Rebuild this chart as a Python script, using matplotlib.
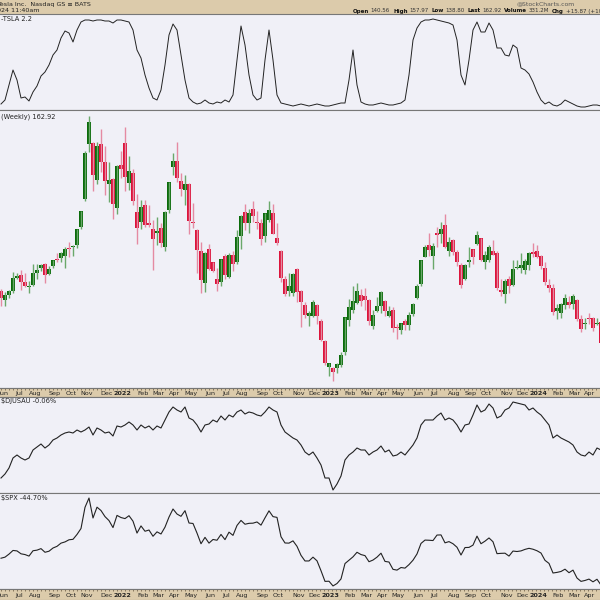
import numpy as np
import pandas as pd
import matplotlib
matplotlib.use("Agg")
import matplotlib.pyplot as plt

# weekly bars, Monday of each week
weeks = pd.date_range("2021-05-31", periods=151, freq="W-MON")

opens = [208, 198, 204, 208, 224, 227, 219, 213, 215, 230,
         235, 240, 228, 238, 246, 247, 250, 259, 260, 262,
         284, 317, 382, 383, 339, 381, 360, 335, 340, 306,
         357, 383, 336, 347, 302, 290, 310, 288, 282, 277,
         283, 260, 304, 355, 362, 338, 327, 335, 289, 280,
         256, 218, 258, 243, 222, 219, 250, 225, 251, 243,
         273, 301, 289, 305, 290, 289, 273, 292, 300, 271,
         255, 223, 208, 206, 234, 208, 192, 179, 179, 192,
         173, 150, 119, 118, 118, 121, 136, 174, 186, 194,
         204, 202, 198, 167, 185, 191, 197, 179, 186, 165,
         163, 173, 168, 181, 200, 217, 248, 262, 250, 277,
         276, 286, 255, 268, 254, 239, 222, 242, 258, 264,
         271, 243, 245, 255, 253, 210, 205, 223, 216, 235,
         236, 233, 239, 254, 255, 250, 236, 215, 212, 185,
         182, 192, 196, 193, 198, 175, 170, 176, 176, 169,
         172]
highs = [211, 207, 210, 231, 230, 233, 229, 220, 240, 240,
         240, 241, 238, 245, 253, 254, 260, 266, 263, 282,
         303, 373, 414.5, 384, 384, 399, 379, 360, 342, 357,
         373, 402, 367, 352, 323, 315, 315, 310, 292, 296,
         288, 303, 337, 371, 384, 347, 345, 336, 312, 282,
         266, 254, 264, 243, 235, 246, 252, 253, 256, 280,
         298, 311, 305, 314, 303, 293, 300, 314, 311, 289,
         257, 226, 230, 230, 235, 209, 195, 185, 198, 193,
         175, 151, 124, 119, 124, 137, 178, 199, 214, 217.6,
         211, 212, 199, 186, 201, 208, 198, 191, 190, 169,
         171, 175, 184, 194, 217, 245, 263, 277, 265, 284,
         290, 299, 272, 270, 257, 241, 240, 260, 258, 279,
         271, 255, 263, 268, 256, 222, 222, 226, 245, 245,
         253, 246, 254, 265, 263, 251, 242, 223, 217, 193,
         194, 205, 202, 205, 199, 180, 177, 183, 178, 176,
         173]
lows = [190.5, 191, 200, 206, 222, 210, 213, 206, 214, 223,
        232, 218, 227, 236, 243, 242, 235, 249, 250, 259,
        281, 314, 372, 326, 335, 349, 321, 313, 293, 299,
        341, 326, 327, 310, 264, 281, 284, 284, 233, 263,
        260, 256, 300, 345, 337, 320, 310, 276, 283, 229,
        206, 207, 233, 231, 208, 214, 222, 224, 232, 240,
        258, 280, 277, 290, 282, 262, 266, 290, 275, 263,
        219, 203, 203, 203, 196, 166, 176, 167, 178, 170,
        150, 121, 108, 101.8, 112, 119, 133, 167, 182, 193,
        191, 186, 168, 164, 184, 182, 179, 178, 160, 152,
        158, 163, 162, 179, 199, 214, 248, 250, 234, 260,
        265, 259, 250, 251, 238, 212, 221, 237, 240, 262,
        244, 234, 242, 251, 210, 202, 194, 206, 214, 234,
        229, 228, 233, 249, 247, 234, 216, 207, 180, 175,
        176, 187, 188, 187, 173, 160, 164, 170, 161, 168,
        146]
closes = [199.7, 203.3, 207.8, 224.0, 226.3, 219.0, 214.7, 214.5, 229.1, 233.0,
          239.1, 226.8, 233.7, 244.5, 245.4, 253.2, 258.1, 258.4, 261.8, 281.0,
          303.2, 371.3, 407.4, 344.5, 379.0, 360.6, 338.3, 339.0, 310.9, 355.7,
          352.3, 342.3, 349.9, 314.6, 282.1, 307.8, 286.7, 285.7, 270.0, 279.4,
          265.1, 301.8, 336.9, 361.5, 341.8, 328.3, 335.0, 290.3, 288.6, 256.5,
          221.3, 253.2, 234.5, 232.2, 216.8, 245.7, 227.3, 250.8, 240.1, 272.2,
          297.2, 288.2, 300.0, 296.7, 288.1, 270.2, 299.7, 303.4, 275.3, 265.3,
          223.1, 205.0, 214.4, 228.5, 207.5, 196.0, 180.2, 182.9, 194.9, 179.1,
          150.2, 123.2, 123.2, 113.1, 122.4, 133.4, 177.9, 190.0, 196.9, 208.3,
          196.9, 197.8, 173.4, 180.1, 190.4, 207.5, 185.1, 185.0, 165.1, 164.3,
          170.1, 168.0, 180.1, 193.2, 214.0, 244.4, 260.5, 256.6, 261.8, 274.4,
          281.4, 260.0, 266.4, 253.9, 242.7, 215.5, 238.6, 245.0, 248.5, 274.4,
          244.9, 250.2, 260.5, 251.1, 212.0, 207.3, 220.0, 214.7, 234.3, 235.5,
          238.8, 243.8, 253.5, 252.5, 248.5, 237.5, 218.9, 212.2, 183.3, 187.9,
          193.6, 200.0, 192.0, 202.6, 175.3, 163.6, 170.8, 175.8, 164.9, 171.1,
          147.1]

# top indicator panel
tsla_ind = [6, 10, 25, 40, 30, 12, 13, 9, 18, 24,
            34, 38, 45, 55, 60, 72, 79, 77, 68, 80,
            88, 90, 90, 89, 90, 90, 89, 89, 87, 90,
            90, 89, 88, 80, 60, 52, 35, 22, 12, 10,
            20, 45, 75, 86, 80, 55, 30, 12, 8, 6,
            7, 10, 7, 6, 8, 7, 10, 8, 15, 50,
            84, 65, 35, 15, 10, 12, 50, 80, 50, 15,
            7, 6, 5, 4, 5, 6, 5, 4, 5, 6,
            5, 4, 4, 5, 6, 7, 7, 30, 60, 25,
            8, 6, 5, 5, 6, 7, 6, 5, 5, 6,
            7, 10, 35, 70, 82, 88, 90, 90, 91, 90,
            89, 88, 87, 85, 70, 35, 25, 50, 80, 88,
            78, 78, 87, 80, 62, 62, 55, 54, 65, 62,
            42, 40, 36, 28, 18, 10, 6, 8, 5, 4,
            6, 10, 8, 6, 4, 3, 3, 4, 5, 5,
            4]

# TSLA : $DJUSAU
rel_djusau = [15, 19, 25, 35, 38, 35, 33, 35, 43, 46,
              49, 45, 48, 53, 55, 58, 60, 61, 60, 63,
              61, 63, 66, 58, 65, 63, 60, 61, 57, 67,
              66, 68, 71, 68, 63, 68, 65, 67, 63, 67,
              65, 73, 81, 86, 83, 81, 86, 75, 73, 68,
              61, 68, 69, 73, 71, 77, 73, 78, 76, 81,
              83, 79, 81, 80, 78, 77, 81, 86, 83, 81,
              68, 61, 58, 55, 53, 48, 41, 38, 41, 35,
              28, 15, 15, 3, 9, 17, 33, 38, 41, 45,
              43, 43, 38, 41, 43, 47, 41, 43, 37, 38,
              41, 38, 43, 48, 55, 68, 73, 73, 73, 77,
              80, 73, 75, 73, 68, 61, 68, 69, 78, 88,
              81, 83, 89, 85, 75, 77, 83, 85, 91, 90,
              89, 88, 83, 85, 81, 78, 73, 68, 55, 58,
              55, 53, 51, 48, 41, 38, 37, 41, 38, 45,
              43]

# TSLA : $SPX (x1000)
rel_spx = [47.2, 47.9, 49.9, 52.3, 52.0, 50.1, 49.6, 48.6, 52.1, 52.5,
           53.5, 51.1, 51.8, 53.9, 55.0, 57.1, 57.9, 59.3, 59.6, 62.8,
           66.7, 80.6, 86.7, 73.6, 80.7, 78.5, 74.5, 71.9, 67.3, 75.3,
           73.9, 73.2, 75.1, 71.5, 63.7, 68.4, 64.9, 65.7, 61.6, 64.5,
           63.1, 67.6, 74.2, 79.5, 76.2, 74.7, 78.4, 70.3, 70.0, 63.7,
           56.7, 60.9, 57.1, 59.5, 59.0, 62.8, 59.4, 64.3, 62.2, 68.7,
           72.0, 69.5, 70.1, 70.2, 71.0, 68.9, 73.7, 78.3, 74.5, 74.0,
           61.3, 57.2, 57.1, 58.6, 55.0, 49.1, 45.4, 45.4, 47.9, 45.5,
           39.0, 32.0, 32.1, 29.0, 30.6, 33.6, 43.7, 45.9, 48.1, 51.1,
           49.6, 48.9, 44.9, 46.0, 47.9, 50.5, 45.1, 44.7, 39.9, 39.4,
           41.1, 40.7, 43.0, 45.9, 50.0, 56.9, 59.1, 59.0, 58.8, 62.4,
           62.5, 57.3, 58.1, 56.7, 54.4, 49.3, 54.2, 54.3, 55.8, 61.7,
           56.7, 58.4, 60.5, 58.0, 50.2, 50.4, 50.5, 48.6, 51.9, 51.6,
           52.0, 53.0, 53.7, 53.1, 52.1, 50.6, 45.8, 43.8, 37.5, 37.9,
           38.5, 40.0, 37.7, 39.4, 34.2, 32.0, 32.6, 33.5, 31.7, 33.4,
           29.6]

quote_labels = ["Open", "High", "Low", "Last", "Volume", "Chg"]
quote_values = ["140.56", "157.97", "138.80", "162.92", "331.2M", "+15.87 (+10.79%)"]

BG = "#f0f0f7"
TAN = "#dccbab"
LINE = "#222222"
H = 600.0

idx = np.arange(len(weeks))
xlim = (-0.25, 149.75)

fig = plt.figure(figsize=(6, 6), dpi=100)
renderer = fig.canvas.get_renderer()


def panel(top, bottom, color=BG):
    ax = fig.add_axes([0, 1 - bottom / H, 1, (bottom - top) / H])
    ax.set_facecolor(color)
    ax.set_xlim(*xlim)
    ax.set_xticks([])
    ax.set_yticks([])
    for s in ("left", "right"):
        ax.spines[s].set_visible(False)
    for s in ("top", "bottom"):
        ax.spines[s].set_color("#777777")
        ax.spines[s].set_linewidth(0.8)
    return ax


def label(ax, top, bottom, ypix, s, x=0.002):
    ax.text(x, 1 - (ypix - top) / (bottom - top), s, transform=ax.transAxes,
            fontsize=4.8, color="#222222", va="center", ha="left")


# header
hd = fig.add_axes([0, 1 - 14 / H, 1, 14 / H])
hd.set_facecolor(TAN)
hd.set_xlim(0, 600)
hd.set_ylim(14, 0)
hd.set_xticks([])
hd.set_yticks([])
for s in hd.spines.values():
    s.set_visible(False)
hd.text(-3, 4.5, "Tesla Inc.  Nasdaq GS \u2261 BATS", fontsize=4.6, va="center", color="#222222")
hd.text(-7, 11, "2024 11:40am", fontsize=4.6, va="center", color="#222222")
hd.text(517, 4, "@StockCharts.com", fontsize=4.4, va="center", color="#555555")

x = 353
for lab, val in zip(quote_labels, quote_values):
    t = hd.text(x, 11, lab, fontsize=4.0, va="center", color="#111111", fontweight="bold")
    x += t.get_window_extent(renderer=renderer).width + 1.5
    t = hd.text(x, 11, val, fontsize=4.0, va="center", color="#333333")
    x += t.get_window_extent(renderer=renderer).width + 3.0

# top indicator
ax1 = panel(14, 110)
ax1.plot(idx, tsla_ind, color=LINE, lw=0.7)
ax1.set_ylim(0, 96)
label(ax1, 14, 110, 19, "-TSLA 2.2")

# price candles
ax2 = panel(110, 388)
o, h, l, c = map(np.array, (opens, highs, lows, closes))
up = c >= o
ax2.vlines(idx, l, h, colors=np.where(up, "#6aa86a", "#e58aa2"), lw=1.0)
ax2.bar(idx, np.maximum(np.abs(c - o), 1.2), bottom=np.minimum(o, c), width=0.8,
        color=np.where(up, "#0b6b0b", "#dc143c"), linewidth=0)
ax2.set_ylim(94.1, 421.6)
label(ax2, 110, 388, 117, "(Weekly) 162.92")


def month_band(top, bottom):
    ax = panel(top, bottom, TAN)
    ax.set_ylim(0, 1)
    ax.set_xticks(idx)
    ax.set_xticklabels([])
    ax.tick_params(axis="x", top=True, bottom=False, direction="in", length=1.6,
                   width=0.6, colors="#7a6a50")
    for k in range(1, len(weeks)):
        if weeks[k].month != weeks[k - 1].month:
            jan = weeks[k].month == 1
            ax.text(k - 0.5, 0.42, str(weeks[k].year) if jan else weeks[k].strftime("%b"),
                    fontsize=4.6, ha="center", va="center", color="#222222",
                    fontweight="bold" if jan else "normal")
    return ax


month_band(388, 397)

ax3 = panel(397, 493)
ax3.plot(idx, rel_djusau, color=LINE, lw=0.8)
ax3.set_ylim(0, 96)
label(ax3, 397, 493, 401.5, "\\$DJUSAU -0.06%")

ax4 = panel(493, 589)
ax4.plot(idx, rel_spx, color=LINE, lw=0.8)
ax4.set_ylim(27.0, 90.0)
label(ax4, 493, 589, 498, "\\$SPX -44.70%")

month_band(589, 600)

fig.savefig("out.png", dpi=100)
